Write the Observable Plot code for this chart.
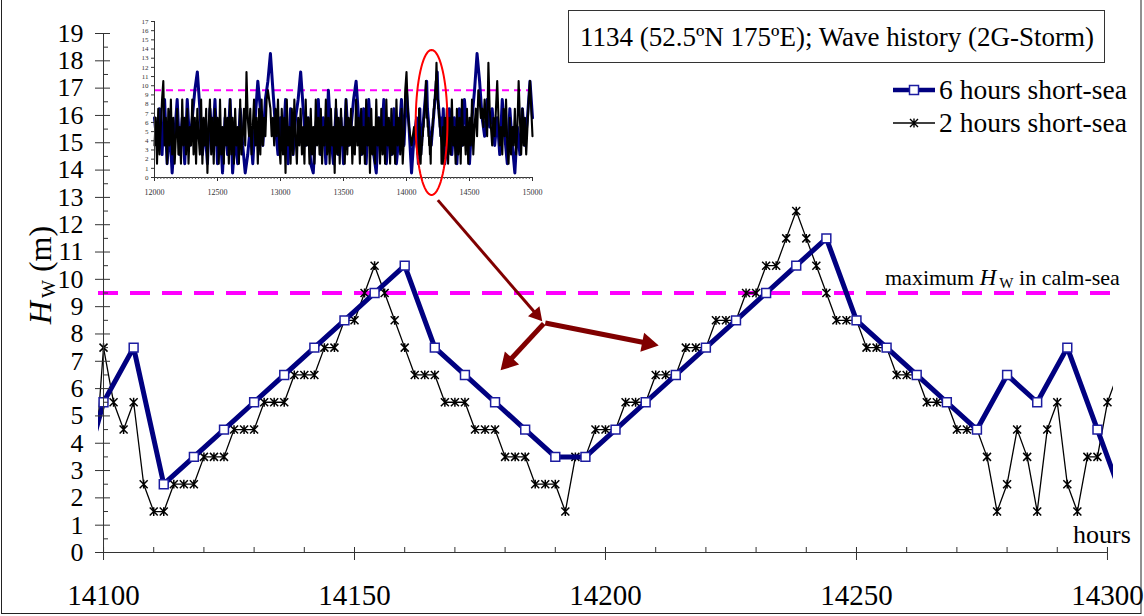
<!DOCTYPE html>
<html>
<head>
<meta charset="utf-8">
<script src="https://cdn.jsdelivr.net/npm/d3@7"></script>
<script src="https://cdn.jsdelivr.net/npm/@observablehq/plot@0.6"></script>
<style>
  html, body { margin: 0; padding: 0; background: #fff; }
  #wrap { position: relative; width: 1144px; height: 616px; overflow: hidden; background: #fff; }
  #main, #inset, #overlay { position: absolute; }
  #main { left: 0; top: 0; }
  #inset { left: 110px; top: 10px; }
  #overlay { left: 0; top: 0; pointer-events: none; }
  svg text { font-family: "Liberation Serif", "Times New Roman", serif; }
</style>
</head>
<body>
<div id="wrap">
  <div id="main"></div>
  <div id="inset"></div>
  <svg id="overlay" width="1144" height="616" xmlns="http://www.w3.org/2000/svg"></svg>
</div>
<script>
// ---------------- data ----------------
// 6-hour short-sea series: start hour, step, wave heights (m)
const sixHourStart = 14094;
const sixHourStep = 6;
const sixHourValues = [1.5, 5.5, 7.5, 2.5, 3.5, 4.5, 5.5, 6.5, 7.5, 8.5, 9.5, 10.5,
  7.5, 6.5, 5.5, 4.5, 3.5, 3.5, 4.5, 5.5, 6.5, 7.5, 8.5, 9.5, 10.5, 11.5,
  8.5, 7.5, 6.5, 5.5, 4.5, 6.5, 5.5, 7.5, 4.5, 1.5];

// 2-hour short-sea series
const twoHourStart = 14098;
const twoHourStep = 2;
const twoHourValues = [2.5, 7.5, 5.5, 4.5, 5.5, 2.5, 1.5, 1.5, 2.5, 2.5, 2.5,
  3.5, 3.5, 3.5, 4.5, 4.5, 4.5, 5.5, 5.5, 5.5, 6.5, 6.5, 6.5, 7.5, 7.5,
  8.5, 8.5, 9.5, 10.5, 9.5, 8.5, 7.5, 6.5, 6.5, 6.5, 5.5, 5.5, 5.5,
  4.5, 4.5, 4.5, 3.5, 3.5, 3.5, 2.5, 2.5, 2.5, 1.5, 3.5, 3.5,
  4.5, 4.5, 4.5, 5.5, 5.5, 5.5, 6.5, 6.5, 6.5, 7.5, 7.5, 7.5, 8.5, 8.5, 8.5,
  9.5, 9.5, 10.5, 10.5, 11.5, 12.5, 11.5, 10.5, 9.5, 8.5, 8.5, 8.5,
  7.5, 7.5, 7.5, 6.5, 6.5, 6.5, 5.5, 5.5, 5.5, 4.5, 4.5, 4.5,
  3.5, 1.5, 2.5, 4.5, 3.5, 1.5, 4.5, 5.5, 2.5, 1.5, 3.5, 3.5, 5.5, 6.5];

const calmSeaMax = 9.5;

// inset: long wave history 12000-15000 h (coarsely read)
const insetBlueLeftStart = 12000, insetBlueLeftStep = 20;
const insetBlueLeft = [6.5, 3.5, 7.5, 2.5, 8.5, 1.5, 5.5, 0.5, 4.5, 8.5,
  2.5, 6.5, 1.5, 8.5, 3.5, 6.5, 9.5, 11.5, 7.5, 2.5,
  5.5, 1.5, 7.5, 3.5, 8.5, 1.5, 5.5, 0.5, 6.5, 2.5,
  8.5, 0.5, 4.5, 1.5, 7.5, 3.5, 0.5, 2.5, 5.5, 1.5,
  6.5, 10.5, 7.5, 3.5, 8.5, 10.5, 13.5, 9.5, 5.5, 2.5,
  6.5, 3.5, 8.5, 1.5, 7.5, 2.5, 6.5, 8.5, 11.5, 7.5,
  3.5, 6.5, 1.5, 0.5, 5.5, 8.5, 2.5, 6.5, 1.5, 9.5,
  4.5, 1.5, 7.5, 2.5, 6.5, 1.5, 8.5, 3.5, 5.5, 8.5,
  10.5, 6.5, 2.5, 7.5, 1.5, 8.5, 4.5, 2.5, 0.5, 6.5,
  3.5, 8.5, 1.5, 5.5, 2.5, 7.5, 1.5, 4.5, 8.5, 3.5,
  9.5, 5.5, 0.5, 4.5, 6.5];
const insetBlueRightStart = 14320, insetBlueRightStep = 20;
const insetBlueRight = [3.5, 7.5, 2.5, 6.5, 1.5, 7.5, 3.5, 8.5, 4.5, 1.5,
  6.5, 9.5, 13.5, 10.5, 6.5, 4.5, 8.5, 5.5, 7.5, 3.5,
  6.5, 2.5, 8.5, 4.5, 1.5, 7.5, 3.5, 0.5, 5.5, 2.5,
  7.5, 3.5, 6.5, 10.5, 6.5];

const insetBlackLeftStart = 12000, insetBlackLeftStep = 10;
const insetBlackLeft = [
  3.5, 6.5, 1.5, 7.5, 2.5, 5.5, 8.5, 10.5, 3.5, 6.5,
  1.5, 7.5, 3.5, 8.5, 2.5, 6.5, 1.5, 4.5, 7.5, 2.5,
  5.5, 1.5, 8.5, 3.5, 6.5, 2.5, 7.5, 1.5, 5.5, 3.5,
  8.5, 2.5, 6.5, 1.5, 7.5, 4.5, 2.5, 8.5, 1.5, 6.5,
  3.5, 7.5, 0.5, 5.5, 8.5, 2.5, 6.5, 1.5, 7.5, 3.5,
  6.5, 1.5, 8.5, 2.5, 5.5, 1.5, 7.5, 3.5, 6.5, 1.5,
  8.5, 2.5, 6.5, 1.5, 7.5, 3.5, 5.5, 1.5, 8.5, 2.5,
  4.5, 7.5, 3.5, 11.5, 6.5, 4.5, 7.5, 2.5, 5.5, 8.5,
  3.5, 6.5, 1.5, 7.5, 2.5, 8.5, 3.5, 6.5, 4.5, 8.5,
  9.5, 8.5, 7.5, 4.5, 6.5, 3.5, 7.5, 4.5, 8.5, 3.5,
  1.5, 7.5, 2.5, 6.5, 0.5, 8.5, 3.5, 5.5, 1.5, 7.5,
  2.5, 8.5, 4.5, 1.5, 6.5, 3.5, 7.5, 2.5, 5.5, 1.5,
  8.5, 3.5, 6.5, 1.5, 7.5, 2.5, 5.5, 1.5, 8.5, 3.5,
  6.5, 2.5, 7.5, 1.5, 5.5, 3.5, 8.5, 2.5, 6.5, 1.5,
  7.5, 3.5, 5.5, 0.5, 8.5, 2.5, 6.5, 1.5, 7.5, 3.5,
  5.5, 1.5, 8.5, 2.5, 6.5, 3.5, 7.5, 1.5, 5.5, 2.5,
  8.5, 3.5, 6.5, 1.5, 7.5, 2.5, 5.5, 1.5, 8.5, 3.5,
  6.5, 0.5, 7.5, 2.5, 5.5, 1.5, 8.5, 3.5, 6.5, 1.5,
  7.5, 2.5, 5.5, 1.5, 8.5, 3.5, 6.5, 1.5, 7.5, 2.5,
  5.5, 1.5, 8.5, 3.5, 6.5, 2.5, 7.5, 1.5, 4.5, 9.5,
  11.5, 7.5, 5.5, 4.5, 3.5, 4.5, 5.5, 4.5, 3.5, 2.5];
const insetBlackRightStart = 14310, insetBlackRightStep = 10;
const insetBlackRight = [
  3.5, 7.5, 1.5, 6.5, 2.5, 8.5, 3.5, 5.5, 1.5, 7.5,
  2.5, 6.5, 1.5, 8.5, 3.5, 5.5, 2.5, 7.5, 1.5, 6.5,
  3.5, 8.5, 2.5, 5.5, 7.5, 4.5, 9.5, 8.5, 6.5, 7.5,
  5.5, 8.5, 6.5, 4.5, 12.5, 7.5, 5.5, 3.5, 6.5, 4.5,
  7.5, 10.5, 6.5, 3.5, 5.5, 2.5, 7.5, 4.5, 8.5, 3.5,
  1.5, 6.5, 2.5, 5.5, 3.5, 7.5, 2.5, 5.5, 10.5, 6.5,
  2.5, 7.5, 3.5, 6.5, 2.5, 5.5, 8.5, 10.5, 7.5, 4.5];

// tick values
const yTicks = d3.range(0, 20);
const yMinorTicks = d3.range(0.5, 19, 1);
const xTicks = [14100, 14150, 14200, 14250, 14300];
const xMinorTicks = d3.range(14100, 14301, 10);
const insetYTicks = d3.range(0, 18);
const insetXTicks = [12000, 12500, 13000, 13500, 14000, 14500, 15000];
const insetXMinorTicks = d3.range(12000, 15001, 25);

// annotation geometry (data coordinates)
const highlight = {cx: 14199, cy: 6.0, rx: 126, ry: 7.9}; // ellipse on inset
const arrowDefs = [
  {x1: 14166.6, y1: 12.9, x2: 14187.4, y2: 8.47, width: 3, big: false},
  {x1: 14187.7, y1: 8.38, x2: 14179.1, y2: 6.67, width: 5, big: true},
  {x1: 14188.0, y1: 8.40, x2: 14210.6, y2: 7.58, width: 5, big: true}
];
const headSmall = 5.6, headBig = 7.2;

// ---------------- build tables ----------------
const series = (start, step, values) => values.map((v, i) => ({h: start + i * step, v}));
const sixHour = series(sixHourStart, sixHourStep, sixHourValues);
const twoHour = series(twoHourStart, twoHourStep, twoHourValues);
const insetBlue = [
  ...series(insetBlueLeftStart, insetBlueLeftStep, insetBlueLeft),
  ...sixHour,
  ...series(insetBlueRightStart, insetBlueRightStep, insetBlueRight)
];
const insetBlack = [
  ...series(insetBlackLeftStart, insetBlackLeftStep, insetBlackLeft),
  ...twoHour,
  ...series(insetBlackRightStart, insetBlackRightStep, insetBlackRight)
];
const ellipsePts = d3.range(0, 73).map(i => {
  const t = (i / 72) * 2 * Math.PI;
  return {h: highlight.cx + highlight.rx * Math.cos(t), v: highlight.cy + highlight.ry * Math.sin(t)};
});

// Excel-style star marker (x with vertical bar)
const starSymbol = {
  draw(ctx, size) {
    const r = Math.sqrt(size / Math.PI);
    ctx.moveTo(-r, -r); ctx.lineTo(r, r);
    ctx.moveTo(-r, r); ctx.lineTo(r, -r);
    ctx.moveTo(0, -r * 1.1); ctx.lineTo(0, r * 1.1);
  }
};

const FONT = "Liberation Serif, Times New Roman, serif";
const NAVY = "#000080";
const MAGENTA = "#ff00ff";
const MAROON = "#800000";

// ---------------- main chart ----------------
function buildMain(shafts, heads) {
  return Plot.plot({
    width: 1144,
    height: 616,
    marginLeft: 98,
    marginRight: 31,
    marginTop: 33,
    marginBottom: 64,
    x: {domain: [14099, 14301.2], axis: null},
    y: {domain: [0, 19], axis: null},
    style: {fontFamily: FONT, background: "transparent", color: "#000", overflow: "visible"},
    marks: [
      Plot.ruleY([calmSeaMax], {stroke: MAGENTA, strokeWidth: 4, strokeDasharray: "20,12"}),
      Plot.line(twoHour, {x: "h", y: "v", stroke: "#000", strokeWidth: 1.3, clip: true}),
      Plot.dot(twoHour, {x: "h", y: "v", symbol: starSymbol, r: 4, stroke: "#000", fill: "none", strokeWidth: 1.5, clip: true}),
      Plot.line(sixHour, {x: "h", y: "v", stroke: NAVY, strokeWidth: 5, clip: true}),
      Plot.dot(sixHour, {x: "h", y: "v", symbol: "square", r: 5, stroke: "#1c1ca0", fill: "#fff", strokeWidth: 1.5, clip: true}),
      // axis lines
      Plot.ruleX([14100], {y1: 0, y2: 19, stroke: "#333", strokeWidth: 1}),
      Plot.ruleY([0], {x1: 14100, x2: 14300, stroke: "#333", strokeWidth: 1}),
      // y ticks and labels
      Plot.axisY({ticks: yTicks, anchor: "left", tickSize: 15, dx: 12, tickPadding: 12, fontSize: 26, label: null, stroke: "#333"}),
      Plot.axisY({ticks: yMinorTicks, anchor: "left", tickSize: 5, dx: 10, tickFormat: () => "", label: null, stroke: "#333"}),
      // x ticks and labels
      Plot.axisX({ticks: xTicks, anchor: "bottom", tickSize: 13, dy: -5, tickFormat: () => "", label: null, stroke: "#333"}),
      Plot.axisX({ticks: xMinorTicks, anchor: "bottom", tickSize: 5, dy: -5, tickFormat: () => "", label: null, stroke: "#333"}),
      Plot.axisX({ticks: xTicks, anchor: "bottom", tickSize: 0, tickPadding: 32, fontSize: 29, label: null, tickFormat: d => String(d)}),
      // arrows (shaft + filled head)
      Plot.link(shafts, {x1: "x1", y1: "y1", x2: "x2", y2: "y2", stroke: MAROON, strokeWidth: "w"}),
      Plot.dot(heads.filter(d => !d.big), {x: "x", y: "y", r: headSmall, rotate: "rotate", symbol: "triangle", fill: MAROON, stroke: "none"}),
      Plot.dot(heads.filter(d => d.big), {x: "x", y: "y", r: headBig, rotate: "rotate", symbol: "triangle", fill: MAROON, stroke: "none"})
    ]
  });
}

// first pass: obtain the scales, then place the arrow heads through them
const probe = buildMain([], []);
const sx = probe.scale("x"), sy = probe.scale("y");
const shafts = [], heads = [];
arrowDefs.forEach(a => {
  const p1 = [sx.apply(a.x1), sy.apply(a.y1)], p2 = [sx.apply(a.x2), sy.apply(a.y2)];
  const dx = p2[0] - p1[0], dy = p2[1] - p1[1], len = Math.hypot(dx, dy);
  const ux = dx / len, uy = dy / len;
  const r = a.big ? headBig : headSmall;
  const k = r * Math.sqrt(Math.PI / (3 * Math.sqrt(3))); // triangle centroid-to-base distance
  const c = [p2[0] - ux * 2 * k, p2[1] - uy * 2 * k];
  shafts.push({x1: a.x1, y1: a.y1, x2: sx.invert(c[0]), y2: sy.invert(c[1]), w: a.width});
  heads.push({x: sx.invert(c[0]), y: sy.invert(c[1]), big: a.big, rotate: Math.atan2(dx, -dy) * 180 / Math.PI});
});
const main = buildMain(shafts, heads);
document.getElementById("main").appendChild(main);

// ---------------- inset chart ----------------
const inset = Plot.plot({
  width: 440,
  height: 195,
  marginLeft: 44,
  marginRight: 18,
  marginTop: 11,
  marginBottom: 28,
  x: {domain: [12000, 15000], axis: null},
  y: {domain: [0, 17], axis: null},
  style: {fontFamily: FONT, background: "transparent", color: "#333", overflow: "visible"},
  marks: [
    Plot.ruleY([calmSeaMax], {stroke: MAGENTA, strokeWidth: 2, strokeDasharray: "7,5"}),
    Plot.line(insetBlue, {x: "h", y: "v", stroke: NAVY, strokeWidth: 3}),
    Plot.line(insetBlack, {x: "h", y: "v", stroke: "#000", strokeWidth: 2.1}),
    Plot.ruleX([12000], {y1: 0, y2: 17, stroke: "#333"}),
    Plot.ruleY([0], {x1: 12000, x2: 15000, stroke: "#333"}),
    Plot.axisY({ticks: insetYTicks, anchor: "left", tickSize: 3, tickPadding: 3, fontSize: 7, label: null, stroke: "#333"}),
    Plot.axisX({ticks: insetXMinorTicks, anchor: "bottom", tickSize: 2, tickFormat: () => "", label: null, stroke: "#555"}),
    Plot.axisX({ticks: insetXTicks, anchor: "bottom", tickSize: 4, tickPadding: 8, fontSize: 8, label: null, stroke: "#333", tickFormat: d => String(d)}),
    Plot.line(ellipsePts, {x: "h", y: "v", stroke: "#ff0000", strokeWidth: 2, curve: "linear-closed"})
  ]
});
document.getElementById("inset").appendChild(inset);

// ---------------- overlay texts (title, legend, labels) ----------------
const ov = d3.select("#overlay");
// outer chart border
ov.append("rect").attr("x", 1.5).attr("y", -2).attr("width", 1139.5).attr("height", 615.5)
  .attr("fill", "none").attr("stroke", "#222").attr("stroke-width", 1);
// title box
ov.append("rect").attr("x", 568.5).attr("y", 10.5).attr("width", 536).attr("height", 52)
  .attr("fill", "#fff").attr("stroke", "#333").attr("stroke-width", 1);
ov.append("text").attr("x", 837).attr("y", 46).attr("text-anchor", "middle")
  .attr("font-size", 27).text("1134 (52.5ºN 175ºE); Wave history (2G-Storm)");

// legend
const legendItems = [
  {label: "6 hours short-sea", y: 90, stroke: NAVY, width: 4.5, marker: "square"},
  {label: "2 hours short-sea", y: 123, stroke: "#000", width: 1.3, marker: "star"}
];
legendItems.forEach(item => {
  ov.append("line").attr("x1", 893).attr("x2", 935).attr("y1", item.y).attr("y2", item.y)
    .attr("stroke", item.stroke).attr("stroke-width", item.width);
  if (item.marker === "square") {
    ov.append("rect").attr("x", 909.5).attr("y", item.y - 4.5).attr("width", 9).attr("height", 9)
      .attr("fill", "#fff").attr("stroke", "#1c1ca0").attr("stroke-width", 1.5);
  } else {
    ov.append("path").attr("d", `M910,${item.y - 4}L918,${item.y + 4}M910,${item.y + 4}L918,${item.y - 4}M914,${item.y - 4.5}L914,${item.y + 4.5}`)
      .attr("stroke", "#000").attr("stroke-width", 1.4).attr("fill", "none");
  }
  ov.append("text").attr("x", 939).attr("y", item.y + 9).attr("font-size", 27.5).text(item.label);
});

// y-axis title
const yt = ov.append("text").attr("transform", "translate(51,275) rotate(-90)")
  .attr("text-anchor", "middle").attr("font-size", 32);
yt.append("tspan").attr("font-style", "italic").text("H");
yt.append("tspan").attr("font-size", 19).attr("dx", 3).attr("dy", 4).text("W");
yt.append("tspan").attr("dy", -4).text(" (m)");

// calm-sea label
const cs = ov.append("text").attr("x", 885).attr("y", 285).attr("font-size", 22);
cs.append("tspan").text("maximum ");
cs.append("tspan").attr("font-style", "italic").attr("font-size", 23).text("H");
cs.append("tspan").attr("font-size", 15).attr("dx", 3).attr("dy", 3).text("W");
cs.append("tspan").attr("dy", -3).text(" in calm-sea");

// x-axis unit
ov.append("text").attr("x", 1073).attr("y", 543).attr("font-size", 26).text("hours");
</script>
</body>
</html>
